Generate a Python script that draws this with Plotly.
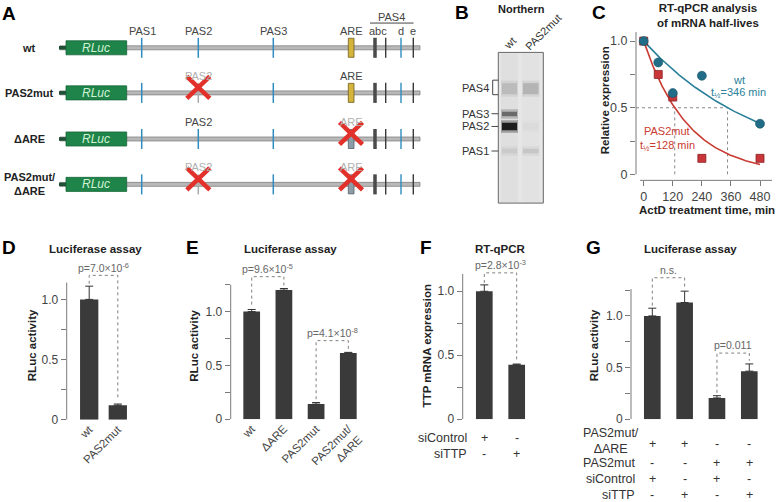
import numpy as np
import plotly.graph_objects as go

FONT = "Liberation Sans, Arial, Helvetica, sans-serif"
W, H = 777, 502          # reference pixel space
FIG_W, FIG_H = 777, 510  # rendered figure size

# ---------------- data ----------------
# Panel C: RT-qPCR half-lives
c_time = [0, 60, 120, 240, 480]
c_wt = [1.0, 0.84, 0.61, 0.74, 0.38]
c_mut = [1.0, 0.75, 0.58, 0.12, 0.12]
c_halflife_wt = 346
c_halflife_mut = 128
c_xticks = [0, 120, 240, 360, 480]

# Panel D
d_labels = ["wt", "PAS2mut"]
d_values = [1.0, 0.12]
d_errors = [0.11, 0.01]

# Panel E
e_labels = ["wt", "ΔARE", "PAS2mut", "PAS2mut/<br>ΔARE"]
e_values = [1.0, 1.20, 0.14, 0.615]
e_errors = [0.02, 0.015, 0.015, 0.006]

# Panel F
f_values = [1.0, 0.425]
f_errors = [0.05, 0.006]
f_rows = ["siControl", "siTTP"]
f_table = [["+", "-"], ["-", "+"]]

# Panel G
g_values = [1.0, 1.13, 0.205, 0.465]
g_errors = [0.075, 0.11, 0.022, 0.07]
g_rows = ["PAS2mut/<br>ΔARE", "PAS2mut", "siControl", "siTTP"]
g_table = [["+", "+", "-", "-"], ["-", "-", "+", "+"],
           ["+", "-", "+", "-"], ["-", "+", "-", "+"]]

# Panel B: northern band intensities (0 = none, 1 = black)
gel_lanes = ["wt", "PAS2mut"]
gel_bands = ["PAS4", "PAS3", "PAS2", "PAS1"]
gel_wt = [0.18, 0.6, 1.0, 0.1]
gel_mut = [0.22, 0.0, 0.02, 0.13]

# Panel A: constructs
row_names = ["wt", "PAS2mut", "ΔARE", "PAS2mut/<br>ΔARE"]
pas2_mutated = [False, True, False, True]
are_deleted = [False, False, True, True]
pas_names = ["PAS1", "PAS2", "PAS3"]

# ---------------- styles ----------------
BLUE = "#2f8cc0"
TEAL = "#2a7f99"
TEAL_D = "#216c86"
RED = "#c93a30"
BAR = "#3a3a3a"
AX = "#7a7a7a"
TXT = "#333333"

shapes, ann, traces = [], [], []


def text(x, y, s, size=11, color=TXT, bold=False, italic=False,
         xanchor="center", angle=0, xref="x6", yref="y6", align="center"):
    if bold:
        s = f"<b>{s}</b>"
    if italic:
        s = f"<i>{s}</i>"
    ann.append(dict(x=x, y=y, xref=xref, yref=yref, text=s, showarrow=False,
                    font=dict(family=FONT, size=size, color=color),
                    xanchor=xanchor, yanchor="middle", textangle=angle,
                    align=align))


def prect(x0, y0, x1, y1, fill, line=None, lw=0.8, opacity=1.0):
    shapes.append(dict(type="rect", xref="x6", yref="y6", x0=x0, y0=y0, x1=x1, y1=y1,
                       fillcolor=fill, opacity=opacity,
                       line=dict(color=line or fill, width=lw if line else 0)))


def pline(x0, y0, x1, y1, color, width=1.0, dash="solid"):
    shapes.append(dict(type="line", xref="x6", yref="y6", x0=x0, y0=y0, x1=x1, y1=y1,
                       line=dict(color=color, width=width, dash=dash)))


# ---------------- Panel letters ----------------
for L, x, y in [("A", 9, 13), ("B", 461.7, 12), ("C", 599, 12), ("D", 9, 246.7),
                ("E", 192, 246.7), ("F", 426, 246.7), ("G", 593.3, 246.7)]:
    text(x, y, L, size=19, color="#000", bold=True)

# ---------------- Panel A ----------------
rows_y = [47.7, 92.7, 138.7, 184.0]
PAS_X = {"PAS1": 141.7, "PAS2": 198.3, "PAS3": 273.3}
ARE_X0, ARE_X1 = 348.3, 354.0
ARE_C = 351.0
PAS4_TICKS = [(375.0, 3.5, "#4a4a4a"), (385.7, 1.4, "#3a3a3a"),
              (401.0, 1.4, BLUE), (413.3, 1.4, "#3a3a3a")]
GRAY_T = "#aaaaaa"

for r, yc in enumerate(rows_y):
    text(29, yc, row_names[r], size=11, color="#222", bold=True)
    prect(60, yc - 2, 420, yc + 2, "#b8b8b8", line="#777777", lw=0.7)
    prect(59, yc - 1.8, 67, yc + 1.8, "#1f4f35")
    prect(66, yc - 7, 126.7, yc + 7, "#1e8449", line="#176638", lw=0.8)
    text(96.3, yc, "RLuc", size=12, color="#d2f2d6", italic=True)
    for name in pas_names:
        col = GRAY_T if (name == "PAS2" and pas2_mutated[r]) else BLUE
        pline(PAS_X[name], yc - 10, PAS_X[name], yc + 10, col, 1.5)
    if are_deleted[r]:
        prect(ARE_X0, yc - 9.5, ARE_X1, yc + 9.5, "#8d9ca6", line="#56616a", lw=0.8)
    else:
        prect(ARE_X0, yc - 9.5, ARE_X1, yc + 9.5, "#d3b53d", line="#6e5c1c", lw=0.8)
    for tx, tw, tc in PAS4_TICKS:
        pline(tx, yc - 10, tx, yc + 10, tc, tw)
    ly = yc - 17
    if r == 0:
        for name in pas_names:
            text(PAS_X[name] + 0.5, ly, name, size=11, color="#444")
        text(ARE_C, ly, "ARE", size=11, color="#444")
        text(378, ly, "abc", size=11, color="#444")
        text(401, ly, "d", size=11, color="#444")
        text(413, ly, "e", size=11, color="#444")
        text(391.7, 16.7, "PAS4", size=11, color="#444")
        pline(370, 23, 413.5, 23, "#444", 1)
    else:
        text(PAS_X["PAS2"], ly, "PAS2", size=11,
             color="#b0b0b0" if pas2_mutated[r] else "#444")
        text(ARE_C, ly, "ARE", size=11,
             color="#b0b0b0" if are_deleted[r] else "#444")
    xs = []
    if pas2_mutated[r]:
        xs.append(PAS_X["PAS2"])
    if are_deleted[r]:
        xs.append(ARE_C)
    for xc in xs:
        cy = yc - 5.5
        pline(xc - 11.5, cy - 11, xc + 11.5, cy + 11, "#e2302a", 4.5)
        pline(xc - 11.5, cy + 11, xc + 11.5, cy - 11, "#e2302a", 4.5)

# ---------------- Panel B ----------------
text(521.7, 8.5, "Northern", size=11, color="#222", bold=True)
GX0, GY0, GX1, GY1 = 498.3, 52.3, 543.3, 202.7
prect(GX0, GY0, GX1, GY1, "#e6e6e6", line="#666666", lw=1)
LANE_X = {"wt": (501.0, 518.0), "PAS2mut": (522.0, 539.5)}
prect(501, GY0 + 1, 518, GY1 - 1, "#dcdcdc", opacity=0.7)
prect(522, GY0 + 1, 539.5, GY1 - 1, "#dfdfdf", opacity=0.7)
BAND_Y = {"PAS4": (82.5, 94.5), "PAS3": (111.0, 116.5),
          "PAS2": (122.0, 130.5), "PAS1": (148.0, 153.5)}
for lane, vals in zip(gel_lanes, [gel_wt, gel_mut]):
    lx0, lx1 = LANE_X[lane]
    for band, v in zip(gel_bands, vals):
        if v <= 0:
            continue
        g = int(222 - 215 * v)
        col = f"rgb({g},{g},{g})"
        y0, y1 = BAND_Y[band]
        prect(lx0, y0 - 2, lx1, y1 + 2, col, opacity=0.3)
        prect(lx0 + 1, y0 + 0.5, lx1 - 1, y1 - 0.5, col, opacity=0.85)
text(510, 43.3, "wt", size=11, color=TXT, angle=-45)
text(543, 31.5, "PAS2mut", size=11, color=TXT, angle=-45)
for band, yb in [("PAS4", 88.3), ("PAS3", 113.5), ("PAS2", 126.2), ("PAS1", 150.7)]:
    text(490.5, yb, band, size=11, color=TXT, xanchor="right")
for yb in [113.5, 126.2, 150.7]:
    pline(491.5, yb, 498.3, yb, "#444", 1)
shapes.append(dict(type="path", xref="x6", yref="y6",
                   path="M 498.3,80 L 492.7,80 L 492.7,94.5 L 498.3,94.5",
                   line=dict(color="#444", width=1)))

# ---------------- Panel C ----------------
t_fit = np.linspace(0, 480, 121)
traces.append(go.Scatter(x=t_fit, y=np.exp(-np.log(2) * t_fit / c_halflife_wt),
                         mode="lines", line=dict(color=TEAL, width=1.6),
                         xaxis="x", yaxis="y", hoverinfo="skip"))
traces.append(go.Scatter(x=t_fit, y=np.exp(-np.log(2) * t_fit / c_halflife_mut),
                         mode="lines", line=dict(color=RED, width=1.6),
                         xaxis="x", yaxis="y", hoverinfo="skip"))
traces.append(go.Scatter(x=c_time, y=c_mut, mode="markers",
                         marker=dict(symbol="square", size=8, color="#c8363a",
                                     line=dict(color="#8a2222", width=0.8)),
                         xaxis="x", yaxis="y"))
traces.append(go.Scatter(x=c_time, y=c_wt, mode="markers",
                         marker=dict(symbol="circle", size=9, color=TEAL_D,
                                     line=dict(color="#1a5468", width=0.6)),
                         xaxis="x", yaxis="y"))
C_XMIN = -31.8
for x0, y0, x1, y1 in [(C_XMIN, 0.5, c_halflife_wt, 0.5),
                       (c_halflife_mut, 0, c_halflife_mut, 0.5),
                       (c_halflife_wt, 0, c_halflife_wt, 0.5)]:
    shapes.append(dict(type="line", xref="x", yref="y", x0=x0, y0=y0, x1=x1, y1=y1,
                       line=dict(color="#8a8a8a", width=1, dash="dot"), layer="below"))
shapes.append(dict(type="line", xref="x domain", yref="y", x0=0, x1=0, y0=0, y1=1.068,
                   line=dict(color=AX, width=1)))
shapes.append(dict(type="line", xref="x", yref="y domain", x0=-15, x1=529.5, y0=0, y1=0,
                   line=dict(color=AX, width=1)))
text(708, 15, "RT-qPCR analysis<br>of mRNA half-lives", size=11.5, color="#222", bold=True)
text(605, 100, "Relative expression", size=11.5, color="#222", bold=True, angle=-90)
text(707, 210, "ActD treatment time, min", size=11.5, color="#222", bold=True)
text(739.3, 79.5, "wt", size=11, color=TEAL)
text(738, 93, "t<sub>½</sub>=346 min", size=11, color=TEAL)
text(666.7, 131, "PAS2mut", size=11, color=RED)
text(667, 145.5, "t<sub>½</sub>=128 min", size=11, color=RED)

# ---------------- Bar panels D-G ----------------
panels = [
    dict(ax=2, values=d_values, errors=d_errors, labels=d_labels, zero=418.8, unit=120.0,
         top=1.14, axis=66.7, c0=89.2, s=28.6, right=135, width=0.64,
         major=[0, 0.5, 1.0], minor=[0.25, 0.75], title=("Luciferase assay", 95),
         ytitle=("RLuc activity", 31.5),
         brackets=[(0, 1, 1.20, 1.13, 0.165, "p=7.0×10<sup>-6</sup>")]),
    dict(ax=3, values=e_values, errors=e_errors, labels=e_labels, zero=418.3, unit=107.3,
         top=1.25, axis=230.7, c0=251.7, s=32.2, right=365, width=0.52,
         major=[0, 0.5, 1.0], minor=[0.25, 0.75, 1.25], title=("Luciferase assay", 290),
         ytitle=("RLuc activity", 194),
         brackets=[(0, 1, 1.325, 1.065, 1.24, "p=9.6×10<sup>-5</sup>"),
                   (2, 3, 0.73, 0.185, 0.64, "p=4.1×10<sup>-8</sup>")]),
    dict(ax=4, values=f_values, errors=f_errors, labels=None, zero=418.3, unit=127.6,
         top=1.136, axis=462.7, c0=484.3, s=32.4, right=540, width=0.515,
         major=[0, 0.5, 1.0], minor=[0.25, 0.75], title=("RT-qPCR", 500),
         ytitle=("TTP mRNA expression", 426.7),
         brackets=[(0, 1, 1.144, 1.065, 0.445, "p=2.8×10<sup>-3</sup>")]),
    dict(ax=5, values=g_values, errors=g_errors, labels=None, zero=418.3, unit=103.0,
         top=1.26, axis=631, c0=652.3, s=32.33, right=772, width=0.515,
         major=[0, 0.5, 1.0], minor=[0.25, 0.75, 1.25], title=("Luciferase assay", 690),
         ytitle=("RLuc activity", 593.5),
         brackets=[(0, 1, 1.37, 1.10, 1.26, "n.s."),
                   (2, 3, 0.64, 0.255, 0.565, "p=0.011")]),
]

axes_layout = {}
DOM_TOP_PX = 262
for p in panels:
    k = p["ax"]
    xa, ya = f"x{k}", f"y{k}"
    n = len(p["values"])
    idx = list(range(n))
    traces.append(go.Bar(x=idx, y=p["values"], width=p["width"], marker=dict(color=BAR, line=dict(width=0)),
                         error_y=dict(type="data", symmetric=False, array=p["errors"],
                                      arrayminus=[0] * n, color="#333", thickness=1, width=4),
                         xaxis=xa, yaxis=ya))
    ytop = (p["zero"] - DOM_TOP_PX) / p["unit"]
    xa_d = dict(
        domain=[p["axis"] / W, p["right"] / W],
        range=[(p["axis"] - p["c0"]) / p["s"], (p["right"] - p["c0"]) / p["s"]],
        anchor=ya, showgrid=False, zeroline=False, showline=False, ticks="",
        tickangle=-45, tickfont=dict(family=FONT, size=11.5, color="#444"))
    if p["labels"]:
        xa_d.update(tickvals=idx, ticktext=p["labels"], showticklabels=True)
    else:
        xa_d.update(showticklabels=False)
    axes_layout[f"xaxis{k}"] = xa_d
    axes_layout[f"yaxis{k}"] = dict(
        domain=[1 - p["zero"] / H, 1 - DOM_TOP_PX / H], range=[0, ytop], anchor=xa,
        showgrid=False, zeroline=False, showline=False, ticks="outside", ticklen=5,
        tickcolor=AX, tickvals=p["major"], ticktext=["0", "0.5", "1.0"],
        minor=dict(tickmode="array", tickvals=p["minor"], ticks="outside", ticklen=5,
                   tickcolor=AX, showgrid=False),
        tickfont=dict(family=FONT, size=12, color="#444"))
    shapes.append(dict(type="line", xref=f"{xa} domain", yref=ya, x0=0, x1=0, y0=0, y1=p["top"],
                       line=dict(color=AX, width=1)))
    for i, j, yt, yl, yr, lab in p["brackets"]:
        shapes.append(dict(type="path", xref=xa, yref=ya,
                           path=f"M {i},{yl} L {i},{yt} L {j},{yt} L {j},{yr}",
                           line=dict(color="#808080", width=1, dash="dot")))
        ann.append(dict(x=(i + j) / 2, y=yt, xref=xa, yref=ya, text=lab, showarrow=False,
                        yshift=8, xanchor="center", yanchor="middle",
                        font=dict(family=FONT, size=10.5, color="#666")))
    text(p["title"][1], 248.3, p["title"][0], size=11.5, color="#222", bold=True)
    text(p["ytitle"][1], 345, p["ytitle"][0], size=11.5, color="#222", bold=True, angle=-90)

# tables for F and G
for rname, row, ypx in zip(f_rows, f_table, [436.7, 453.3]):
    text(469, ypx, rname, size=12.5, color=TXT, xanchor="right")
    for i, s in enumerate(row):
        ann.append(dict(x=i, y=1 - ypx / H, xref="x4", yref="paper", text=s, showarrow=False,
                        xanchor="center", yanchor="middle",
                        font=dict(family=FONT, size=12.5, color=TXT)))
g_row_y = [440.0, 461.7, 478.3, 494.3]
for r, (rname, row, ypx) in enumerate(zip(g_rows, g_table, g_row_y)):
    if r == 0:
        text(611, ypx, rname, size=12.5, color=TXT, xanchor="center")
    else:
        text(637.3, ypx, rname, size=12.5, color=TXT, xanchor="right")
    for i, s in enumerate(row):
        ann.append(dict(x=i, y=1 - (ypx + (3 if r == 0 else 0)) / H, xref="x5", yref="paper",
                        text=s, showarrow=False, xanchor="center", yanchor="middle",
                        font=dict(family=FONT, size=12.5, color=TXT)))

traces.append(go.Scatter(x=[0], y=[0], mode="markers", marker=dict(opacity=0),
                         xaxis="x6", yaxis="y6", hoverinfo="skip"))

fig = go.Figure(data=traces)
fig.update_layout(
    width=FIG_W, height=FIG_H, margin=dict(l=0, r=0, t=0, b=0),
    paper_bgcolor="white", plot_bgcolor="rgba(0,0,0,0)", showlegend=False,
    font=dict(family=FONT, color=TXT),
    xaxis=dict(domain=[636 / W, 772 / W], range=[C_XMIN, 529.5], anchor="y",
               tickvals=c_xticks, ticks="outside", ticklen=5, tickcolor=AX,
               showgrid=False, zeroline=False, showline=False,
               tickfont=dict(family=FONT, size=12.5, color="#444")),
    yaxis=dict(domain=[1 - 180 / H, 1 - 32 / H], range=[-0.045, 1.068], anchor="x",
               tickvals=[0, 0.5, 1.0], ticktext=["0", "0.5", "1.0"],
               minor=dict(tickmode="array", tickvals=[0.25, 0.75], ticks="outside",
                          ticklen=5, tickcolor=AX, showgrid=False),
               ticks="outside", ticklen=5, tickcolor=AX,
               showgrid=False, zeroline=False, showline=False,
               tickfont=dict(family=FONT, size=12.5, color="#444")),
    xaxis6=dict(domain=[0, 1], range=[0, W], visible=False, anchor="y6", fixedrange=True),
    yaxis6=dict(domain=[0, 1], range=[H, 0], visible=False, anchor="x6", fixedrange=True),
    shapes=shapes, annotations=ann,
)
fig.update_layout(**axes_layout)
POST = (
    "var de=document.documentElement, b=document.body;"
    "de.style.margin='0';de.style.padding='0';de.style.overflow='hidden';"
    "b.style.margin='0';b.style.padding='0';b.style.overflow='hidden';"
)
fig.write_html("out.html", config={"displayModeBar": False}, post_script=POST)
